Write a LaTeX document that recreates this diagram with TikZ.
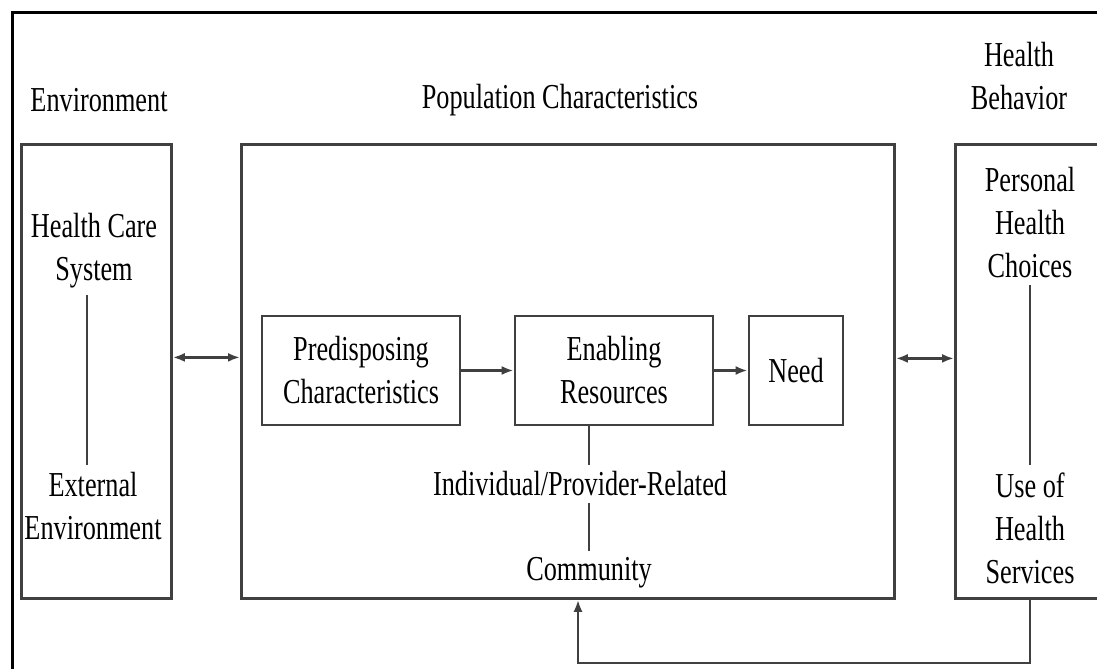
\documentclass[tikz,border=0pt]{standalone}
\usepackage{fontspec}
\setmainfont{Liberation Serif}[FakeStretch=0.75]
\usetikzlibrary{arrows.meta}

\begin{document}
\begin{tikzpicture}[x=0.5pt,y=-0.5pt]
                        \tikzstyle{every node}=[font=\fontsize{17.5}{21.5}\selectfont, text=black]
                        \tikzstyle{bigbox}=[draw=black!75, line width=1.4pt, anchor=north west, minimum height=227pt, inner sep=0pt]
                        \tikzstyle{smallbox}=[draw=black!75, line width=1.4pt, minimum width=99pt, minimum height=54.5pt, align=center]
                        \tikzstyle{txt}=[align=center]
                        \tikzstyle{link}=[draw=black!75, line width=1.2pt]
                        \tikzstyle{flow}=[link, -{Latex[length=6pt,width=4.5pt]}]
                        \tikzstyle{both}=[link, {Latex[length=6pt,width=4.5pt]}-{Latex[length=6pt,width=4.5pt]}]
                        \useasboundingbox (0,0) rectangle (1097,669);
                        \clip (0,0) rectangle (1097,669);
                        \draw[line width=1.5pt] (12,669) |- (1097,12);
                        \node[txt] (envtitle) at (99,100) {Environment};
                        \node[txt] (poptitle) at (560,100) {Population Characteristics};
                        \node[txt] (behtitle) at (1019,76) {Health\\Behavior};
                        \node[bigbox, minimum width=75pt] (envbox) at (20,143) {};
                        \node[bigbox, minimum width=326.5pt] (popbox) at (240,143) {};
                        \node[bigbox, minimum width=120pt] (behbox) at (954,143) {};
                        \node[txt] (hcs) at (94,251) {Health Care\\System};
                        \node[txt] (ext) at (93,506) {External\\Environment};
                        \node[smallbox] (pred) at (361,370.5) {Predisposing\\Characteristics};
                        \node[smallbox] (enab) at (614,370.5) {Enabling\\Resources};
                        \node[smallbox, minimum width=47pt] (need) at (796,370.5) {Need};
                        \node[txt] (ind) at (580,484) {Individual/Provider-Related};
                        \node[txt] (com) at (589,573) {Community};
                        \node[txt] (pch) at (1030,223) {Personal\\Health\\Choices};
                        \node[txt] (use) at (1030,528) {Use of\\Health\\Services};
                        \coordinate (loop) at (578,663);
                        \draw[link] ([xshift=-3.5pt]hcs.south) -- ([xshift=-3.5pt]hcs.south |- ext.north);
                        \draw[link] (pch.south) -- (use.north);
                        \draw[link] (enab.south -| com.north) -- (ind.north -| com.north);
                        \draw[link] (ind.south -| com.north) -- (com.north);
                        \draw[flow] (pred.east) -- (enab.west);
                        \draw[flow] (enab.east) -- (need.west);
                        \draw[both] ([yshift=7pt]envbox.east) -- ([yshift=7pt]popbox.west);
                        \draw[both] ([yshift=6.5pt]popbox.east) -- ([yshift=6.5pt]behbox.west);
                        \draw[flow] (behbox.south -| pch.south) |- (loop) -- (loop |- popbox.south);
                    \end{tikzpicture}
\end{document}
